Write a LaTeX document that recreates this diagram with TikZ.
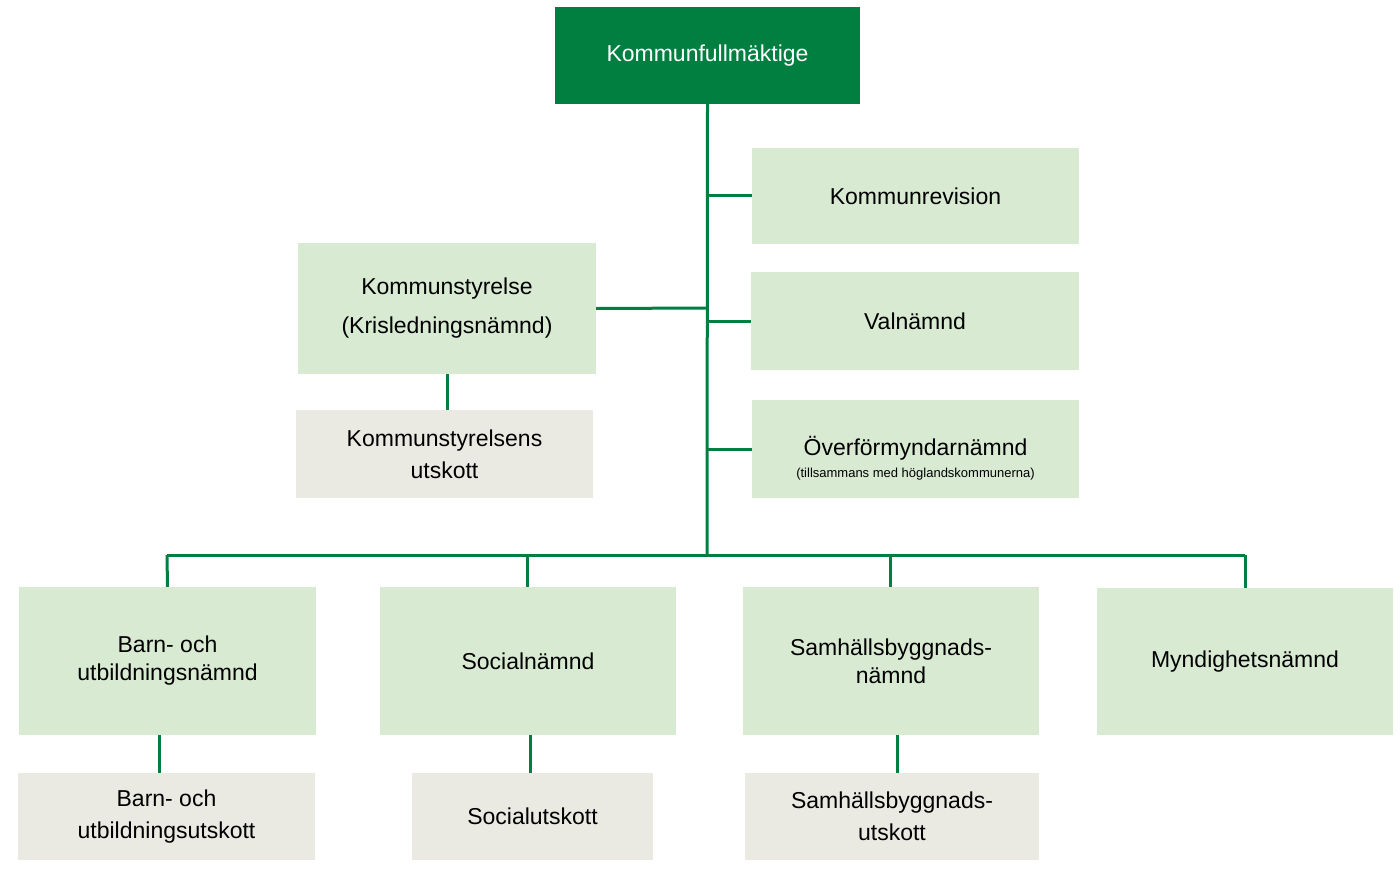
\documentclass[tikz,border=0pt]{standalone}
\usepackage{fontspec}
\setmainfont{Liberation Sans}
\definecolor{dg}{HTML}{007F40}
\definecolor{lg}{HTML}{D9EAD3}
\definecolor{gr}{HTML}{EAEAE3}
\begin{document}
\begin{tikzpicture}[x=1pt,y=-1pt,
 box/.style={inner sep=0pt,align=center,font=\fontsize{23}{30}\selectfont},
 ln/.style={draw=dg,line width=3pt}]
\useasboundingbox (0,0) rectangle (1400,869);
\newcommand\bx[6]{\fill[#6] (#2,#3) rectangle (#4,#5); \node[box] (#1) at ({(#2+#4)/2},{(#3+#5)/2}) [minimum width={#4-#2},minimum height={#5-#3}] {};}
\bx{top}{555}{7}{860}{104}{dg}
\bx{rev}{752}{148}{1079}{244}{lg}
\bx{val}{751}{272}{1079}{370}{lg}
\bx{ov}{752}{400}{1079}{498}{lg}
\bx{ks}{298}{243}{596}{374}{lg}
\bx{ksu}{296}{410}{593}{498}{gr}
\bx{barn}{19}{587}{316}{735}{lg}
\bx{soc}{380}{587}{676}{735}{lg}
\bx{sam}{743}{587}{1039}{735}{lg}
\bx{myn}{1097}{588}{1393}{735}{lg}
\bx{barnu}{18}{773}{315}{860}{gr}
\bx{socu}{412}{773}{653}{860}{gr}
\bx{samu}{745}{773}{1039}{860}{gr}
\node[box,white] at (top) {Kommunfullmäktige};
\node[box] at (rev) {Kommunrevision};
\node[box] at (val) {Valnämnd};
\node[box] at ([yshift=-9]ov.center) {Överförmyndarnämnd\\[-8pt]{\fontsize{13}{15}\selectfont (tillsammans med höglandskommunerna)}};
\node[box,font=\fontsize{23}{39}\selectfont] at (ks) {Kommunstyrelse\\(Krisledningsnämnd)};
\node[box,font=\fontsize{23}{32}\selectfont] at (ksu) {Kommunstyrelsens\\utskott};
\node[box,font=\fontsize{23}{28}\selectfont] at (barn) {Barn- och\\utbildningsnämnd};
\node[box] at (soc) {Socialnämnd};
\node[box,font=\fontsize{23}{28}\selectfont] at (sam) {Samhällsbyggnads-\\nämnd};
\node[box] at (myn) {Myndighetsnämnd};
\node[box,font=\fontsize{23}{32}\selectfont] at (barnu) {Barn- och\\utbildningsutskott};
\node[box] at (socu) {Socialutskott};
\node[box,font=\fontsize{23}{32}\selectfont] at (samu) {Samhällsbyggnads-\\utskott};
\coordinate (t) at (707,555);
\coordinate (bl) at (167,555);
\coordinate (br) at (1245,555);
\draw[ln] (top.south) -- (t);
\draw[ln] (bl) -- (br);
\draw[ln] (bl) -- (barn.north);
\draw[ln] (527,555) -- (527,587);
\draw[ln] (890,555) -- (890,587);
\draw[ln] (br) -- (myn.north);
\draw[ln] (707,196) -- (rev.west);
\draw[ln] (707,321) -- (val.west);
\draw[ln] (707,449) -- (ov.west);
\draw[ln] (ks.east) -- (707,308);
\draw[ln] (447,374) -- (447,410);
\draw[ln] (159,735) -- (159,773);
\draw[ln] (530,735) -- (530,773);
\draw[ln] (897,735) -- (897,773);
\end{tikzpicture}
\end{document}
